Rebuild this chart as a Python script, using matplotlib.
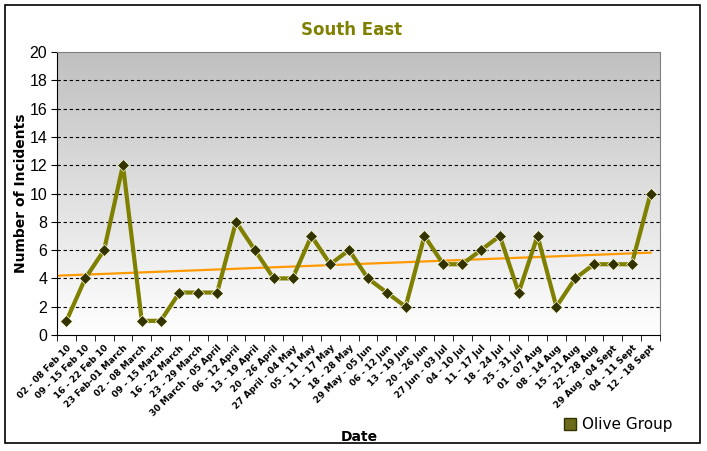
import numpy as np
import matplotlib
matplotlib.use('Agg')
import matplotlib.pyplot as plt
from matplotlib.colors import LinearSegmentedColormap
from matplotlib.patches import Rectangle, Patch

weeks = ['02 - 08 Feb 10', '09 - 15 Feb 10', '16 - 22 Feb 10', '23 Feb-01 March',
         '02 - 08 March', '09 - 15 March', '16 - 22 March', '23 - 29 March',
         '30 March - 05 April', '06 - 12 April', '13 - 19 April', '20 - 26 April',
         '27 April - 04 May', '05 - 11 May', '11 - 17 May', '18 - 28 May',
         '29 May - 05 Jun', '06 - 12 Jun', '13 - 19 Jun', '20 - 26 Jun',
         '27 Jun - 03 Jul', '04 - 10 Jul', '11 - 17 Jul', '18 - 24 Jul',
         '25 - 31 Jul', '01 - 07 Aug', '08 - 14 Aug', '15 - 21 Aug',
         '22 - 28 Aug', '29 Aug - 04 Sept', '04 - 11 Sept', '12 - 18 Sept']
incidents = [1, 4, 6, 12, 1, 1, 3, 3, 3, 8, 6, 4, 4, 7, 5, 6,
             4, 3, 2, 7, 5, 5, 6, 7, 3, 7, 2, 4, 5, 5, 5, 10]
# trendline values read at the left edge of the plot and at the last week
trend_ends = [4.19, 5.82]

W, H = 707, 451
fig = plt.figure(figsize=(W / 100, H / 100), dpi=100)
ax = fig.add_axes([57 / W, 1 - 335 / H, (660 - 57) / W, (335 - 52) / H])

n = len(weeks)
x = np.arange(n)
ax.set_xlim(-0.5, n - 0.5)
ax.set_ylim(0, 20)

# grey gradient background, darker at top
grad = np.linspace(0, 1, 256).reshape(-1, 1)
cmap = LinearSegmentedColormap.from_list('g', ['#ffffff', '#c0c0c0'])
ax.imshow(grad, extent=[-0.5, n - 0.5, 0, 20], aspect='auto', cmap=cmap,
          origin='lower', zorder=0)

for yv in range(2, 20, 2):
    ax.axhline(yv, color='black', lw=0.8, ls=(0, (3, 2.5)), zorder=1)

ax.plot([-0.5, n - 1], trend_ends, color='#ff9900', lw=1.6, zorder=2)
ax.plot(x, incidents, color='#808000', lw=3, zorder=3)
ax.plot(x, incidents, ls='none', marker='D', ms=6.5, mfc='#333300', mec='#ffffe0',
        mew=0.5, zorder=4)

ax.set_yticks(range(0, 21, 2))
ax.set_yticklabels([str(v) for v in range(0, 21, 2)], family='Liberation Sans', fontsize=11.5)
ax.set_xticks(x)
ax.set_xticklabels(weeks, rotation=45, ha='right', rotation_mode='anchor',
                   fontsize=6.5, fontweight='bold')
ax.set_xticks(np.arange(-0.5, n), minor=True)
ax.tick_params(axis='x', which='major', length=0, pad=6)
ax.tick_params(axis='x', which='minor', length=4, direction='out')
ax.tick_params(axis='y', length=4, direction='out', pad=3)

for s in ['top', 'right']:
    ax.spines[s].set_color('#808080')
for s in ['left', 'bottom']:
    ax.spines[s].set_color('black')

ax.set_ylabel('Number of Incidents', fontsize=10, fontweight='bold')
ax.yaxis.set_label_coords(-(57 - 28) / (660 - 57), 0.5)
ax.set_xlabel('Date', fontsize=10, fontweight='bold')
ax.xaxis.set_label_coords((359 - 57) / (660 - 57), -(430 - 335) / (335 - 52))
fig.text(352 / W, 1 - 30 / H, 'South East', fontsize=12, fontweight='bold',
         color='#808000', ha='center', va='center')

fig.patches.append(Rectangle((5 / W, 1 - 443 / H), 695 / W, 438 / H, transform=fig.transFigure,
                             fill=False, edgecolor='black', lw=1.2))

fig.legend(handles=[Patch(facecolor='#6b6b1a', edgecolor='#333300')], labels=['Olive Group'],
           loc='center', bbox_to_anchor=(618 / W, 1 - 425 / H), frameon=False, fontsize=11,
           handlelength=0.8, handleheight=0.8, handletextpad=0.4)

fig.savefig('out.png', dpi=100)
